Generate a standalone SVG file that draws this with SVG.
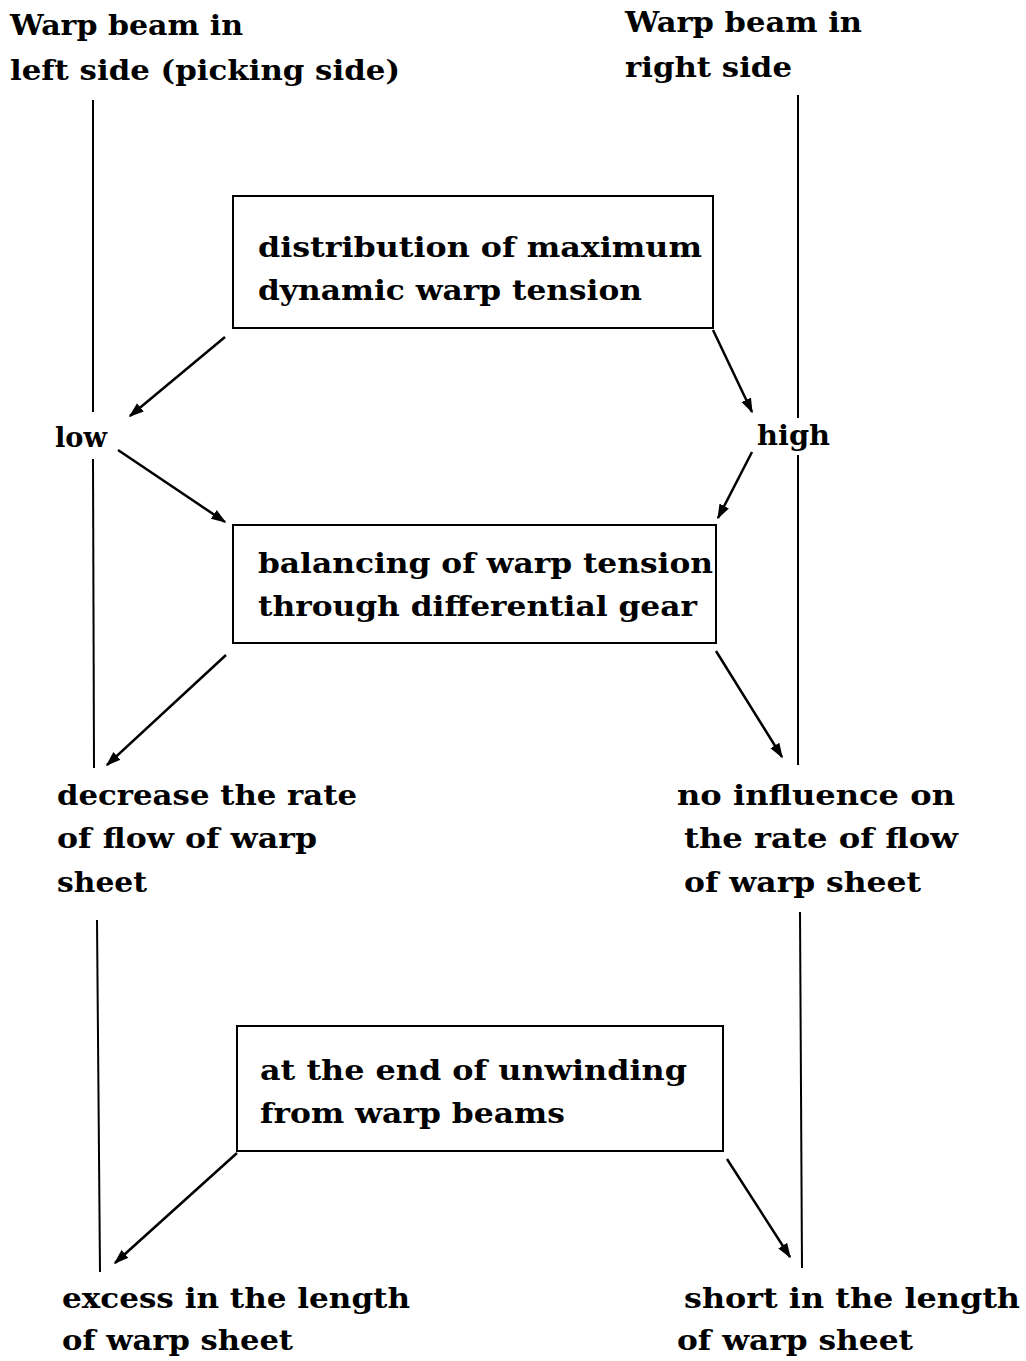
<svg xmlns="http://www.w3.org/2000/svg" width="1026" height="1361" viewBox="0 0 1026 1361">
<defs>
<marker id="ah" viewBox="0 0 10 10" refX="9" refY="5" markerWidth="6" markerHeight="6" orient="auto" markerUnits="strokeWidth">
<path d="M0,1.5 L10,5 L0,8.5 z" fill="#000"/>
</marker>
<style>
text{font-family:"DejaVu Serif","Liberation Serif",serif;font-weight:bold;font-size:27px;fill:#000}
.box rect{fill:none;stroke:#000;stroke-width:2}
.v line{stroke:#000;stroke-width:2}
.a line{stroke:#000;stroke-width:2.5;marker-end:url(#ah)}
</style>
</defs>
<rect width="1026" height="1361" fill="#fff"/>
<g id="lines" class="v">
<line x1="93" y1="100" x2="93" y2="412"/>
<line x1="93" y1="459" x2="94" y2="768"/>
<line x1="97" y1="920" x2="100" y2="1272"/>
<line x1="798" y1="95" x2="798" y2="418"/>
<line x1="798" y1="455" x2="798" y2="765"/>
<line x1="800" y1="912" x2="802" y2="1268"/>
</g>
<g id="title-left"><text x="10" y="35" textLength="233" lengthAdjust="spacingAndGlyphs">Warp beam in</text><text x="10" y="80" textLength="390" lengthAdjust="spacingAndGlyphs">left side (picking side)</text></g>
<g id="title-right"><text x="625" y="32" textLength="237" lengthAdjust="spacingAndGlyphs">Warp beam in</text><text x="625" y="77" textLength="167" lengthAdjust="spacingAndGlyphs">right side</text></g>
<g id="box1" class="box"><rect x="233" y="196" width="480" height="132"/><text x="258" y="257" textLength="444" lengthAdjust="spacingAndGlyphs">distribution of maximum</text><text x="258" y="300" textLength="384" lengthAdjust="spacingAndGlyphs">dynamic warp tension</text></g>
<g id="low"><text x="55" y="447" textLength="52" lengthAdjust="spacingAndGlyphs">low</text></g>
<g id="high"><text x="757" y="445" textLength="73" lengthAdjust="spacingAndGlyphs">high</text></g>
<g id="box2" class="box"><rect x="233" y="525" width="483" height="118"/><text x="258" y="573" textLength="455" lengthAdjust="spacingAndGlyphs">balancing of warp tension</text><text x="258" y="616" textLength="439" lengthAdjust="spacingAndGlyphs">through differential gear</text></g>
<g id="decrease"><text x="57" y="805" textLength="300" lengthAdjust="spacingAndGlyphs">decrease the rate</text><text x="57" y="848" textLength="260" lengthAdjust="spacingAndGlyphs">of flow of warp</text><text x="57" y="892" textLength="90" lengthAdjust="spacingAndGlyphs">sheet</text></g>
<g id="noinfluence"><text x="677" y="805" textLength="278" lengthAdjust="spacingAndGlyphs">no influence on</text><text x="684" y="848" textLength="274" lengthAdjust="spacingAndGlyphs">the rate of flow</text><text x="684" y="892" textLength="237" lengthAdjust="spacingAndGlyphs">of warp sheet</text></g>
<g id="box3" class="box"><rect x="237" y="1026" width="486" height="125"/><text x="260" y="1080" textLength="427" lengthAdjust="spacingAndGlyphs">at the end of unwinding</text><text x="260" y="1123" textLength="305" lengthAdjust="spacingAndGlyphs">from warp beams</text></g>
<g id="excess"><text x="62" y="1308" textLength="348" lengthAdjust="spacingAndGlyphs">excess in the length</text><text x="62" y="1350" textLength="231" lengthAdjust="spacingAndGlyphs">of warp sheet</text></g>
<g id="short"><text x="684" y="1308" textLength="336" lengthAdjust="spacingAndGlyphs">short in the length</text><text x="677" y="1350" textLength="236" lengthAdjust="spacingAndGlyphs">of warp sheet</text></g>
<g id="connectors" class="a">
<line x1="225" y1="337" x2="130" y2="416"/>
<line x1="118" y1="450" x2="225" y2="522"/>
<line x1="713" y1="330" x2="752" y2="412"/>
<line x1="752" y1="452" x2="718" y2="518"/>
<line x1="226" y1="655" x2="107" y2="765"/>
<line x1="716" y1="651" x2="782" y2="757"/>
<line x1="237" y1="1153" x2="115" y2="1263"/>
<line x1="727" y1="1159" x2="790" y2="1257"/>
</g>
</svg>
